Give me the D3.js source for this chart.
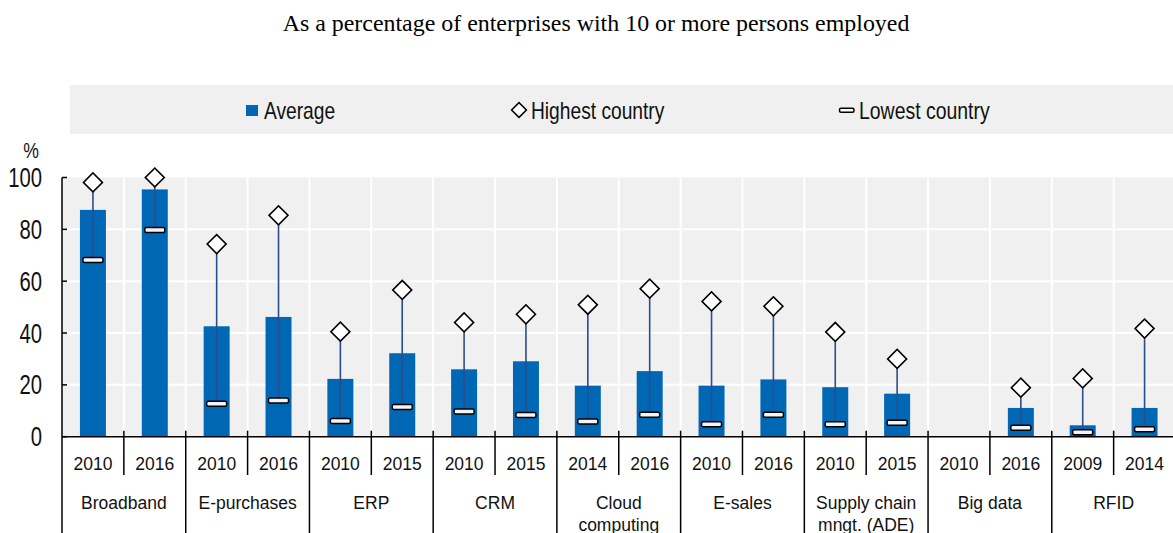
<!DOCTYPE html>
<html>
<head>
<meta charset="utf-8">
<script src="https://cdn.jsdelivr.net/npm/d3@7"></script>
<style>
  html, body { margin: 0; padding: 0; background: #ffffff; overflow: hidden; }
  svg { display: block; }
</style>
</head>
<body>
<script>
// ---- Data ----
const groups = ["Broadband", "E-purchases", "ERP", "CRM", "Cloud computing", "E-sales",
                "Supply chain mngt. (ADE)", "Big data", "RFID"];
const years = ["2010", "2016", "2010", "2016", "2010", "2015", "2010", "2015", "2014", "2016",
               "2010", "2016", "2010", "2015", "2010", "2016", "2009", "2014"];
const average = [87.5, 95.4, 42.6, 46.2, 22.3, 32.2, 26.0, 29.1, 19.7, 25.3,
                 19.7, 22.1, 19.1, 16.6, null, 11.1, 4.4, 11.1];
const highest = [98.1, 100, 74.3, 85.4, 40.5, 56.6, 44.1, 47.2, 50.9, 57.1,
                 52.2, 50.3, 40.4, 30.0, null, 18.9, 22.5, 41.7];
const lowest = [68.2, 79.7, 12.7, 14.0, 6.1, 11.5, 9.7, 8.4, 5.9, 8.5,
                4.8, 8.5, 4.8, 5.4, null, 3.5, 1.7, 2.9];
const yTicks = [0, 20, 40, 60, 80, 100];
const legendLabels = ["Average", "Highest country", "Lowest country"];
const title = "As a percentage of enterprises with 10 or more persons employed";
const yUnit = "%";

// ---- Layout ----
const W = 1173, H = 533;
const BLUE = "#0067b4", BG = "#f0f0f0", WHISK = "#2b4d8c";
const SANS = "'Liberation Sans', Arial, sans-serif";
const SERIF = "'Liberation Serif', 'Times New Roman', serif";

const svg = d3.select("body").append("svg").attr("width", W).attr("height", H);

const rows = years.map((y, i) => ({ key: i, year: y, group: groups[Math.floor(i / 2)],
  avg: average[i], hi: highest[i], lo: lowest[i] }));

const x = d3.scaleBand().domain(rows.map(d => d.key)).range([62, 1175.5]).padding(0);
const y = d3.scaleLinear().domain([0, 100]).range([436.7, 177.5]);
const bw = x.bandwidth();
const barW = bw * 0.42;

function txt(parent, px, py, s, size, family, anchor, sx, fill) {
  const g = parent.append("g").attr("transform", `translate(${px},${py}) scale(${sx},1)`);
  return g.append("text").attr("x", 0).attr("y", 0)
    .attr("font-family", family).attr("font-size", size)
    .attr("text-anchor", anchor).attr("fill", fill || "#000").text(s);
}

// Title
txt(svg, 596, 30.5, title, 23, SERIF, "middle", 1.04);

// Legend
const lg = svg.append("g");
lg.append("rect").attr("x", 70).attr("y", 85).attr("width", W - 70).attr("height", 49).attr("fill", BG);
lg.append("rect").attr("x", 246).attr("y", 105).attr("width", 12).attr("height", 11).attr("fill", BLUE);
txt(lg, 264, 118.5, legendLabels[0], 24, SANS, "start", 0.8, "#111");
lg.append("path").attr("d", d3.symbol(d3.symbolSquare, 110)())
  .attr("transform", "translate(519,110) rotate(45)")
  .attr("fill", "#fff").attr("stroke", "#000").attr("stroke-width", 1.5);
txt(lg, 531, 118.5, legendLabels[1], 24, SANS, "start", 0.8, "#111");
lg.append("rect").attr("x", 839.5).attr("y", 108.3).attr("width", 14.5).attr("height", 4)
  .attr("rx", 1.5).attr("fill", "#fff").attr("stroke", "#000").attr("stroke-width", 1.5);
txt(lg, 859, 118.5, legendLabels[2], 24, SANS, "start", 0.81, "#111");

// Plot background
const plot = svg.append("g");
plot.append("rect").attr("x", x.range()[0]).attr("y", y(100))
  .attr("width", x.range()[1] - x.range()[0]).attr("height", y(0) - y(100)).attr("fill", BG);

// Gridlines
plot.selectAll("line.hg").data(yTicks.filter(t => t > 0 && t < 100)).join("line")
  .attr("x1", x.range()[0]).attr("x2", x.range()[1])
  .attr("y1", d => y(d)).attr("y2", d => y(d))
  .attr("stroke", "#fff").attr("stroke-width", 2);
plot.selectAll("line.vg").data(rows.slice(1)).join("line")
  .attr("x1", d => x(d.key)).attr("x2", d => x(d.key))
  .attr("y1", y(100)).attr("y2", y(0))
  .attr("stroke", "#fff").attr("stroke-width", 2);

// Bars
const valid = rows.filter(d => d.avg != null);
plot.selectAll("rect.bar").data(valid).join("rect")
  .attr("x", d => x(d.key) + bw / 2 - barW / 2)
  .attr("y", d => y(d.avg))
  .attr("width", barW)
  .attr("height", d => y(0) - y(d.avg))
  .attr("fill", BLUE);

// Whiskers
plot.selectAll("line.wh").data(valid).join("line")
  .attr("x1", d => x(d.key) + bw / 2).attr("x2", d => x(d.key) + bw / 2)
  .attr("y1", d => y(d.lo)).attr("y2", d => y(d.hi))
  .attr("stroke", WHISK).attr("stroke-width", 1.6);

// Lowest markers
plot.selectAll("rect.lo").data(valid).join("rect")
  .attr("x", d => x(d.key) + bw / 2 - 10)
  .attr("y", d => y(d.lo) - 2.5)
  .attr("width", 20).attr("height", 5).attr("rx", 1.5)
  .attr("fill", "#f4f4f4").attr("stroke", "#000").attr("stroke-width", 1.5);

// Highest markers
plot.selectAll("path.hi").data(valid).join("path")
  .attr("d", d3.symbol(d3.symbolSquare, 180)())
  .attr("transform", d => `translate(${x(d.key) + bw / 2},${y(d.hi)}) rotate(45)`)
  .attr("fill", "#fff").attr("stroke", "#000").attr("stroke-width", 1.6);

// Y axis
const ax = svg.append("g");
ax.append("line").attr("x1", 62).attr("x2", 62).attr("y1", y(100)).attr("y2", H)
  .attr("stroke", "#000").attr("stroke-width", 1.5);
ax.selectAll("line.yt").data(yTicks).join("line")
  .attr("x1", 62).attr("x2", 67).attr("y1", d => y(d)).attr("y2", d => y(d))
  .attr("stroke", "#000").attr("stroke-width", 1.5);
yTicks.forEach(t => {
  txt(ax, 42, y(t) + 9.5, String(t), 27, SANS, "end", 0.75, "#111");
});
txt(ax, 31, 158, yUnit, 22, SANS, "middle", 0.8, "#111");

// X axis
ax.append("line").attr("x1", 62).attr("x2", W).attr("y1", y(0)).attr("y2", y(0))
  .attr("stroke", "#000").attr("stroke-width", 1.5);
rows.slice(1).forEach(d => {
  const groupStart = d.key % 2 === 0;
  ax.append("line").attr("x1", x(d.key)).attr("x2", x(d.key))
    .attr("y1", y(0) - 6).attr("y2", groupStart ? H : 475)
    .attr("stroke", "#000").attr("stroke-width", 1.5);
});
rows.forEach(d => {
  txt(ax, x(d.key) + bw / 2, 469.5, d.year, 17.5, SANS, "middle", 1, "#111");
});

// Group labels (wrapped to the two-band width)
groups.forEach((gname, gi) => {
  const cx = x(gi * 2) + bw;
  const maxW = bw * 2 - 10;
  const words = gname.split(" ");
  const lines = [];
  let cur = [];
  const probe = svg.append("text").attr("font-family", SANS).attr("font-size", 17.5);
  words.forEach(w => {
    const test = cur.concat([w]).join(" ");
    probe.text(test);
    if (probe.node().getComputedTextLength() > maxW && cur.length) {
      lines.push(cur.join(" "));
      cur = [w];
    } else {
      cur.push(w);
    }
  });
  if (cur.length) lines.push(cur.join(" "));
  probe.remove();
  lines.forEach((ln, li) => {
    txt(ax, cx, 509 + li * 22, ln, 17.5, SANS, "middle", 1, "#111");
  });
});
</script>
</body>
</html>
